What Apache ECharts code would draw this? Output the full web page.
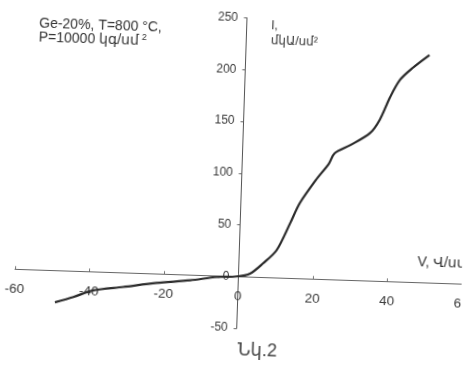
<!DOCTYPE html>
<html>
<head>
<meta charset="utf-8">
<script src="https://cdn.jsdelivr.net/npm/echarts@6/dist/echarts.min.js"></script>
<style>
  html, body { margin: 0; padding: 0; background: #ffffff; overflow: hidden; }
  #chart { width: 465px; height: 367px; transform: rotate(1.9deg); transform-origin: 50% 50%; }
</style>
</head>
<body>
<div id="chart"></div>
<script>
// Field strength V (V/cm) and current density I (uA/cm^2)
const vValues = [-49, -44.1, -38.8, -30.8, -21.9, -12.9, -5.8, -0.5, 3.1, 6.5, 10, 13.4, 15.8, 19.9, 23.3, 24.7, 28.9, 34, 36.5, 39.1, 41.6, 44.9, 49.3];
const iValues = [-30.8, -25.1, -18, -13.8, -8.9, -5.2, -1.2, 0, 3.2, 13.5, 26.6, 53, 72.7, 95.5, 112, 122, 130.5, 142.6, 155.6, 178, 195, 207, 220];
const xTicks = [-60, -40, -20, 0, 20, 40, 60];
const yTicks = [-50, 0, 50, 100, 150, 200, 250];
const noteLine1 = 'Ge-20%, T=800 °C,';
const noteLine2 = 'P=10000 կգ/սմ';
const yName = 'I,\nմկԱ/սմ²';
const xName = 'V, Վ/սմ';
const caption = 'Նկ.2';

const FONT = '"Liberation Sans", "DejaVu Sans", sans-serif';
const GRID = { left: 18, right: 0, top: 17.5, bottom: 39 };
const W = 465, H = 367;
const plotW = W - GRID.left - GRID.right, plotH = H - GRID.top - GRID.bottom;
const xMin = xTicks[0], xMax = xTicks[xTicks.length - 1];
const yMin = yTicks[0], yMax = yTicks[yTicks.length - 1];
// place each axis where the other axis is zero
const yAxisOffset = -plotW * (0 - xMin) / (xMax - xMin);
const xAxisOffset = -plotH * (0 - yMin) / (yMax - yMin);

const chart = echarts.init(document.getElementById('chart'), null, { renderer: 'canvas' });
const points = vValues.map((v, i) => [v, iValues[i]]);

chart.setOption({
  backgroundColor: '#ffffff',
  animation: false,
  grid: Object.assign({ containLabel: false, outerBoundsMode: 'none' }, GRID),
  xAxis: {
    type: 'value', min: xMin, max: xMax, interval: 20,
    position: 'bottom', offset: xAxisOffset,
    axisLine: { onZero: false, lineStyle: { color: '#666', width: 1 } },
    axisTick: { show: true, inside: true, length: 3, lineStyle: { color: '#777' } },
    axisLabel: { color: '#3a3a3a', fontSize: 13.5, fontFamily: FONT, margin: 13, showMaxLabel: true, showMinLabel: true, hideOverlap: false },
    splitLine: { show: false }
  },
  yAxis: {
    type: 'value', min: yMin, max: yMax, interval: 50,
    position: 'left', offset: yAxisOffset,
    axisLine: { onZero: false, lineStyle: { color: '#555', width: 1 } },
    axisTick: { show: true, inside: false, length: 3, lineStyle: { color: '#666' } },
    axisLabel: { color: '#3a3a3a', fontSize: 12, fontFamily: FONT, margin: 9 },
    splitLine: { show: false }
  },
  graphic: [
    { type: 'text', left: 34, top: 23.5, style: { text: noteLine1, fill: '#333', font: '14px ' + FONT } },
    { type: 'text', left: 34, top: 36, style: {
        text: '{a|' + noteLine2 + '}{s|2}', fill: '#333',
        rich: {
          a: { fontSize: 14, fontFamily: FONT, fill: '#333' },
          s: { fontSize: 9, fontFamily: FONT, fill: '#333', padding: [0, 0, 8, 3] }
        } } },
    { type: 'text', left: 266, top: 17, style: { text: yName, fill: '#333', font: '12px ' + FONT, lineHeight: 15 } },
    { type: 'text', left: 420, top: 249, style: { text: xName, fill: '#333', font: '14px ' + FONT } },
    { type: 'text', left: 243, top: 341, style: { text: caption, fill: '#444', font: '18px ' + FONT } }
  ],
  series: [{
    type: 'line',
    data: points,
    smooth: 0.3,
    showSymbol: false,
    lineStyle: { color: '#2b2b2b', width: 2.2 }
  }]
});
</script>
</body>
</html>
